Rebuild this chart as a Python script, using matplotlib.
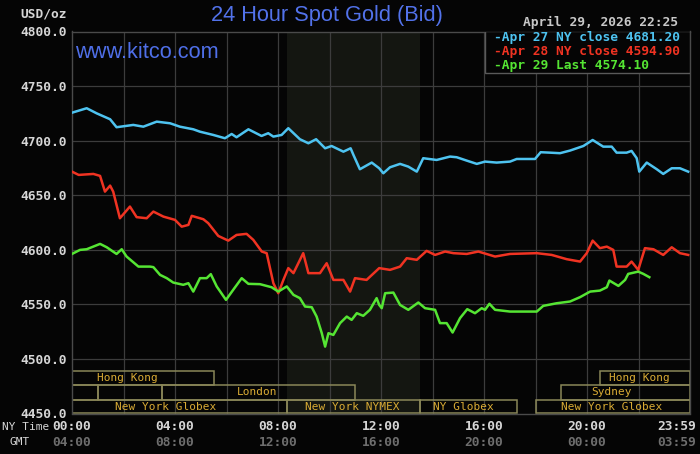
import matplotlib
matplotlib.use('Agg')
import matplotlib.pyplot as plt
from matplotlib.patches import Rectangle

# ---------------- data ----------------
BLUE_H = [0, 0.57, 0.96, 1.48, 1.73, 2.38, 2.77, 3.29, 3.81, 4.19,
          4.71, 4.97, 5.49, 5.94, 6.2, 6.39, 6.85, 7.36, 7.62, 7.82,
          8.14, 8.4, 8.85, 9.18, 9.48, 9.83, 10.08, 10.54, 10.82, 10.93,
          11.18, 11.64, 11.93, 12.09, 12.35, 12.74, 13.06, 13.39, 13.64, 14.16,
          14.68, 14.94, 15.33, 15.72, 16.04, 16.49, 17.01, 17.27, 17.98, 18.2,
          18.56, 18.95, 19.34, 19.86, 20.22, 20.63, 20.96, 21.15, 21.54, 21.73,
          21.93, 22.03, 22.32, 22.71, 22.96, 23.29, 23.61, 23.93]
BLUE_V = [4725.6, 4729.7, 4725.0, 4719.6, 4712.3, 4714.4, 4712.8, 4717.4, 4715.9, 4712.8,
          4710.4, 4708.2, 4705.2, 4702.2, 4706.1, 4703.1, 4710.4, 4704.3, 4706.8, 4703.7,
          4705.2, 4711.4, 4701.3, 4697.6, 4701.3, 4693.0, 4695.1, 4689.9, 4693.0, 4686.9,
          4673.8, 4679.9, 4674.7, 4670.1, 4675.6, 4678.7, 4676.2, 4671.6, 4683.9, 4682.3,
          4685.4, 4684.8, 4681.7, 4678.7, 4680.8, 4679.9, 4680.8, 4683.2, 4683.2, 4689.4,
          4689.0, 4688.5, 4690.9, 4695.1, 4700.6, 4694.5, 4694.5, 4689.0, 4689.0, 4690.6,
          4683.9, 4671.6, 4679.9, 4673.8, 4669.5, 4674.7, 4674.7, 4671.6]

RED_H = [0, 0.26, 0.83, 1.09, 1.28, 1.48, 1.6, 1.86, 2.25, 2.51,
         2.9, 3.16, 3.55, 4.0, 4.26, 4.52, 4.65, 5.1, 5.29, 5.68,
         6.07, 6.39, 6.78, 7.04, 7.37, 7.56, 7.82, 8.01, 8.21, 8.4,
         8.6, 8.98, 9.18, 9.63, 9.89, 10.15, 10.54, 10.8, 10.99, 11.44,
         11.93, 12.35, 12.74, 13.0, 13.39, 13.77, 14.1, 14.49, 14.81, 15.33,
         15.78, 16.43, 17.01, 18.05, 18.63, 19.21, 19.73, 19.99, 20.22, 20.5,
         20.77, 21.02, 21.15, 21.54, 21.73, 21.99, 22.25, 22.58, 22.96, 23.29,
         23.61, 23.93]
RED_V = [4671.6, 4668.6, 4669.5, 4667.7, 4653.3, 4658.8, 4653.3, 4628.9, 4639.6, 4629.9,
         4628.9, 4635.0, 4630.4, 4627.4, 4621.2, 4622.8, 4631.1, 4628.0, 4624.4, 4612.7,
         4608.4, 4613.6, 4614.6, 4609.1, 4598.4, 4596.9, 4569.4, 4560.2, 4572.4, 4583.2,
         4578.6, 4596.9, 4578.6, 4578.6, 4587.7, 4572.4, 4572.4, 4561.7, 4574.0, 4572.4,
         4583.2, 4581.6, 4584.6, 4592.3, 4590.8, 4599.0, 4595.3, 4598.4, 4596.9, 4596.2,
         4598.4, 4593.8, 4596.2, 4596.9, 4595.3, 4591.4, 4589.2, 4596.9, 4608.4, 4601.5,
         4602.9, 4599.9, 4584.6, 4584.6, 4589.2, 4581.6, 4601.5, 4600.5, 4595.3, 4602.3,
         4596.9, 4595.3]

GREEN_H = [0, 0.31, 0.57, 1.09, 1.35, 1.73, 1.93, 2.12, 2.58, 3.03,
           3.16, 3.42, 3.68, 3.93, 4.32, 4.52, 4.71, 4.97, 5.23, 5.39,
           5.62, 5.98, 6.26, 6.59, 6.85, 7.3, 7.75, 8.01, 8.34, 8.6,
           8.85, 9.05, 9.31, 9.5, 9.7, 9.83, 9.96, 10.15, 10.41, 10.67,
           10.86, 11.06, 11.31, 11.57, 11.83, 11.93, 12.03, 12.16, 12.48, 12.74,
           13.06, 13.45, 13.71, 14.1, 14.29, 14.55, 14.78, 15.07, 15.35, 15.65,
           15.91, 16.04, 16.21, 16.43, 17.01, 18.05, 18.3, 18.82, 19.34, 19.73,
           20.12, 20.5, 20.77, 20.87, 21.22, 21.48, 21.6, 21.99, 22.19, 22.42]
GREEN_V = [4596.2, 4599.9, 4600.5, 4605.4, 4602.3, 4596.2, 4600.5, 4593.8, 4584.6, 4584.6,
           4584.1, 4577.0, 4574.0, 4570.0, 4567.9, 4569.4, 4561.7, 4574.0, 4574.0, 4577.7,
           4566.4, 4554.1, 4563.3, 4574.0, 4568.8, 4568.5, 4565.7, 4561.7, 4566.4, 4558.7,
           4555.7, 4548.0, 4547.4, 4538.8, 4523.6, 4511.3, 4523.6, 4522.0, 4532.8, 4538.8,
           4535.8, 4541.9, 4539.5, 4545.0, 4555.7, 4549.5, 4546.5, 4560.2, 4560.8, 4549.5,
           4545.0, 4551.7, 4546.5, 4545.0, 4532.8, 4532.8, 4524.2, 4537.4, 4545.6, 4541.9,
           4546.5, 4545.0, 4550.5, 4545.0, 4543.4, 4543.4, 4548.6, 4551.0, 4552.6, 4556.6,
           4561.7, 4562.6, 4565.7, 4571.8, 4566.9, 4572.4, 4577.9, 4580.0, 4577.9, 4574.9]

LEGEND_LABELS = ["Apr 27 NY close 4681.20", "Apr 28 NY close 4594.90", "Apr 29 Last 4574.10"]
TITLE = "24 Hour Spot Gold (Bid)"
DATE_TEXT = "April 29, 2026 22:25"
Y_TICKS = [4450, 4500, 4550, 4600, 4650, 4700, 4750, 4800]
NY_TICK_H = [0, 4, 8, 12, 16, 20]
NY_TICK_LABELS = ["00:00", "04:00", "08:00", "12:00", "16:00", "20:00"]
GMT_TICK_LABELS = ["04:00", "08:00", "12:00", "16:00", "20:00", "00:00"]
LAST_NY, LAST_GMT = "23:59", "03:59"

NYMEX_START, NYMEX_END = 8.333, 13.5
SESSION_NAMES = ["Hong Kong", "", "", "London", "New York Globex", "New York NYMEX",
                 "NY Globex", "New York Globex", "Sydney", "Hong Kong"]
SESSION_START = [0, 0, 1, 3.5, 0, 8.333, 13.5, 18, 19, 20.5]
SESSION_END = [5.5, 1, 3.5, 11, 8.333, 13.5, 17.3, 24, 24, 24]
SESSION_ROW = [0, 1, 1, 1, 2, 2, 2, 2, 1, 0]
SESSION_LABEL_H = [2.14, 0, 0, 7.17, 3.65, 10.9, 15.2, 20.96, 20.96, 22.03]

# ---------------- style ----------------
W, H = 700, 454
BG = '#050505'
C_BLUE, C_RED, C_GREEN = '#4ec3f0', '#f03322', '#55e533'
MONO = 'DejaVu Sans Mono'
ROW_EDGES = [4488.8, 4476.0, 4462.6, 4450.0]  # row tops (row0,row1,row2) and bottom

fig = plt.figure(figsize=(7, 4.54), dpi=100, facecolor=BG)
L, R, T, B = 72, 690, 31.5, 413.5
ax = fig.add_axes([L / W, 1 - B / H, (R - L) / W, (B - T) / H])
ax.set_facecolor(BG)
ax.set_xlim(0, 24)
ax.set_ylim(4450, 4800)

ax.axvspan(NYMEX_START, NYMEX_END, color='#141611', zorder=0, lw=0)
for h in range(2, 24, 2):
    ax.axvline(h, color='#3c3c3c', lw=0.9, zorder=1)
for v in Y_TICKS[1:-1]:
    ax.axhline(v, color='#3c3c3c', lw=0.9, zorder=1)

for sp in ax.spines.values():
    sp.set_color('#4a4a4a')
    sp.set_linewidth(1.0)

# sessions
for name, s, e, r, lh in zip(SESSION_NAMES, SESSION_START, SESSION_END, SESSION_ROW, SESSION_LABEL_H):
    y0 = ROW_EDGES[r + 1]
    y1 = ROW_EDGES[r]
    ax.add_patch(Rectangle((s, y0), e - s, y1 - y0, facecolor='none',
                           edgecolor='#8a8758', lw=1.1, zorder=2))
    if name:
        ax.text(lh, (y0 + y1) / 2, name, color='#d9ab34', fontsize=8, family=MONO,
                ha='center', va='center', zorder=3)

# lines
ax.plot(BLUE_H, BLUE_V, color=C_BLUE, lw=1.8, zorder=4, solid_joinstyle='round')
ax.plot(RED_H, RED_V, color=C_RED, lw=1.8, zorder=4, solid_joinstyle='round')
ax.plot(GREEN_H, GREEN_V, color=C_GREEN, lw=1.8, zorder=4, solid_joinstyle='round')

# y ticks
ax.set_yticks(Y_TICKS)
ax.set_yticklabels([f"{v:.1f}" for v in Y_TICKS], family=MONO, fontsize=9.3,
                   color='#d6d6d6', fontweight='bold')
ax.tick_params(axis='y', length=0, pad=4)
ax.set_xticks([])

# x labels
xt = ax.get_xaxis_transform()
def yax(ypx):
    return (B - ypx) / (B - T)
for h, a, g in zip(NY_TICK_H, NY_TICK_LABELS, GMT_TICK_LABELS):
    ax.text(h, yax(427), a, transform=xt, ha='center', va='center', family=MONO,
            fontsize=9.3, color='#d6d6d6', fontweight='bold', clip_on=False)
    ax.text(h, yax(442), g, transform=xt, ha='center', va='center', family=MONO,
            fontsize=9.3, color='#6e6e6e', fontweight='bold', clip_on=False)

def px(x, y):
    return x / W, 1 - y / H

fig.text(*px(696, 427), LAST_NY, family=MONO, fontsize=9.3, color='#d6d6d6',
         ha='right', va='center', fontweight='bold')
fig.text(*px(696, 442), LAST_GMT, family=MONO, fontsize=9.3, color='#6e6e6e',
         ha='right', va='center', fontweight='bold')

fig.text(*px(2, 427), "NY Time", family=MONO, fontsize=8, color='#d6d6d6',
         ha='left', va='center')
fig.text(*px(20, 442), "GMT", family=MONO, fontsize=8, color='#d6d6d6',
         ha='center', va='center')
fig.text(*px(67, 14), "USD/oz", family=MONO, fontsize=9.3, color='#d6d6d6',
         ha='right', va='center', fontweight='bold')

fig.text(*px(327, 16), TITLE, family='Liberation Sans', fontsize=15.7,
         color='#5272ea', ha='center', va='center')
fig.text(*px(75, 53), "www.kitco.com", family='Liberation Sans', fontsize=15.7,
         color='#4f6fe8', ha='left', va='center', zorder=6)
fig.text(*px(678, 22), DATE_TEXT, family=MONO, fontsize=9.3, color='#c8c8c8',
         ha='right', va='center', fontweight='bold')

# legend box
lx0 = (485 - L) / (R - L) * 24
ly0 = 4800 - (72.7 - T) / ((B - T) / 350)
ax.add_patch(Rectangle((lx0, ly0), 24 - lx0, 4800 - ly0, facecolor=BG,
                       edgecolor='#5a5a5a', lw=1.0, zorder=5))
for lab, c, ypx in zip(LEGEND_LABELS, [C_BLUE, C_RED, C_GREEN], [37.5, 51, 65]):
    fig.text(*px(494, ypx), "-" + lab, family=MONO, fontsize=9.3, color=c,
             ha='left', va='center', fontweight='bold', zorder=7)

fig.savefig('out.png', dpi=100, facecolor=BG)
